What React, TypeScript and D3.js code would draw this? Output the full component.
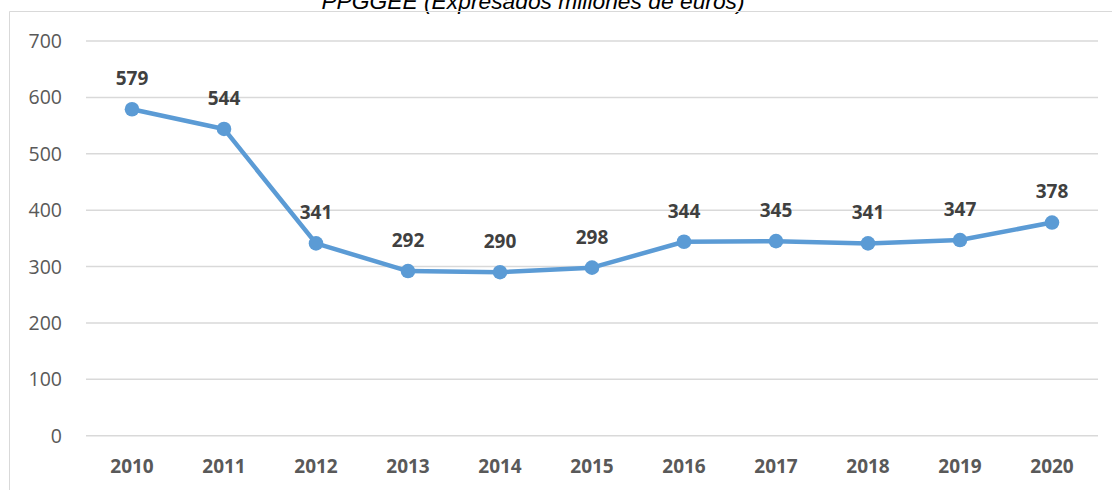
import React from "react";
import * as d3 from "d3";

const years = ["2010", "2011", "2012", "2013", "2014", "2015", "2016", "2017", "2018", "2019", "2020"];
const values = [579, 544, 341, 292, 290, 298, 344, 345, 341, 347, 378];
const yTicks = [0, 100, 200, 300, 400, 500, 600, 700];
const title = "PPGGEE (Expresados millones de euros)";

export default function App() {
  const W = 1112, H = 490;
  const left = 86, right = 1098, top = 41, bottom = 435.7;
  const x = d3.scaleBand<string>().domain(years).range([left, right]);
  const y = d3.scaleLinear().domain([0, 700]).range([bottom, top]);
  const cx = (d: string) => (x(d) ?? 0) + x.bandwidth() / 2;
  const line = d3.line<number>().x((_, i) => cx(years[i])).y((v) => y(v));
  const font = "'Open Sans', sans-serif";
  return (
    <svg width={W} height={H} style={{ position: "absolute", left: 0, top: 0, background: "#fff" }}>
      <text x={533} y={9} textAnchor="middle" fontFamily="'Liberation Sans', Arial, sans-serif" fontStyle="italic" fontSize={22.8} fill="#000">{title}</text>
      <line x1={9.5} x2={W} y1={11.5} y2={11.5} stroke="#d9d9d9" strokeWidth={1} />
      <line x1={9.5} x2={9.5} y1={11.5} y2={H} stroke="#d9d9d9" strokeWidth={1} />
      {yTicks.map((t) => (
        <g key={t}>
          <line x1={left} x2={right} y1={y(t)} y2={y(t)} stroke="#d9d9d9" strokeWidth={1.5} />
          <text x={62} y={y(t)} dy="0.36em" textAnchor="end" fontFamily={font} fontSize={19.5} fill="#595959">{t}</text>
        </g>
      ))}
      {years.map((yr) => (
        <text key={yr} x={cx(yr)} y={466} dy="0.36em" textAnchor="middle" fontFamily={font} fontWeight="bold" fontSize={19} fill="#595959">{yr}</text>
      ))}
      <path d={line(values) ?? ""} fill="none" stroke="#5b9bd5" strokeWidth={4.5} strokeLinejoin="round" strokeLinecap="round" />
      {values.map((v, i) => (
        <circle key={i} cx={cx(years[i])} cy={y(v)} r={7.3} fill="#5b9bd5" />
      ))}
      {values.map((v, i) => (
        <text key={"l" + i} x={cx(years[i])} y={y(v) - 31} dy="0.36em" textAnchor="middle" fontFamily={font} fontWeight="bold" fontSize={19} fill="#404040">{v}</text>
      ))}
    </svg>
  );
}
